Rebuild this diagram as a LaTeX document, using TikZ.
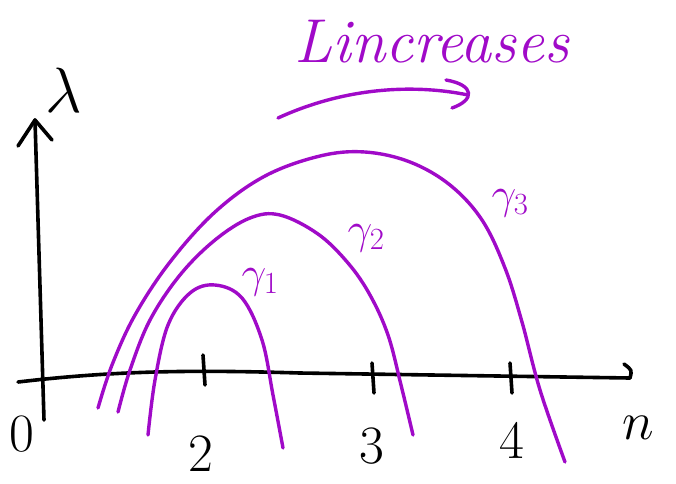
\RequirePackage{fix-cm}
\documentclass[tikz,border=0pt]{standalone}
\usepackage{amsmath}
\usepackage{xcolor}
\usetikzlibrary{positioning, arrows.meta, calc}
\definecolor{pen}{RGB}{160,10,200}

\begin{document}
\begin{tikzpicture}[x=1pt, y=-1pt,
  line cap=round, line join=round,
  axis/.style ={draw=black, line width=3.6pt},
  tick/.style ={draw=black, line width=3.6pt},
  curve/.style={draw=pen, line width=3.4pt},
  num/.style  ={font=\fontsize{54}{54}\selectfont, inner sep=0pt},
  lab/.style  ={text=pen, font=\fontsize{44}{44}\selectfont, inner sep=0pt}]
\useasboundingbox (0,0) rectangle (676,483);
% axes
\coordinate (o) at (44,420);
\coordinate (ytop) at (35,120);
\coordinate (xl) at (18,382);
\coordinate (xr) at (630,378);
\draw[axis] (o) -- (ytop);
\draw[axis] (18,146) -- (ytop) -- (52,140);
\draw[axis] (xl) .. controls (120,370) and (200,370) .. (300,373) -- (xr);
\draw[axis] (624,364) .. controls (632,370) .. (xr);
% ticks
\foreach \x/\t in {203/355, 372/363, 510/363}
  \draw[tick] (\x,\t) -- (\x+2,\t+30);
% labels
\node[num] (zero)  at (22,434) {0};
\node[num] (two)   at (201,454) {2};
\node[num] (three) at (372,446) {3};
\node[num] (four)  at (512,440) {4};
\node[num] (nlab)  at (638,428) {$n$};
\node[font=\fontsize{64}{64}\selectfont, inner sep=0pt] (lam) at (64,90) {$\lambda$};
% curves
\draw[curve] plot[smooth, tension=0.6] coordinates {(148,435) (155,380) (168,325) (190,293) (215,285) (242,298) (262,340) (273,395) (283,448)};
\draw[curve] plot[smooth, tension=0.6] coordinates {(118,412) (130,370) (150,320) (180,275) (215,240) (250,218) (280,215) (318,234) (348,263) (370,295) (388,335) (401,385) (413,435)};
\draw[curve] plot[smooth, tension=0.6] coordinates {(98,408) (112,365) (135,315) (170,262) (215,212) (265,176) (320,156) (365,152) (410,162) (450,185) (482,220) (505,268) (522,322) (540,390) (565,462)};
\node[lab] (g1) at (260,282) {$\gamma_1$};
\node[lab] (g2) at (366,238) {$\gamma_2$};
\node[lab] (g3) at (510,203) {$\gamma_3$};
% increasing direction
\node[text=pen, font=\fontsize{62}{62}\selectfont\itshape, inner sep=0pt] (inc) at (432,42) {Lincreases};
\draw[curve] (278,118) .. controls (350,85) and (420,85) .. (468,95);
\draw[curve] (446,80) .. controls (475,85) and (475,100) .. (452,108);
\end{tikzpicture}
\end{document}
